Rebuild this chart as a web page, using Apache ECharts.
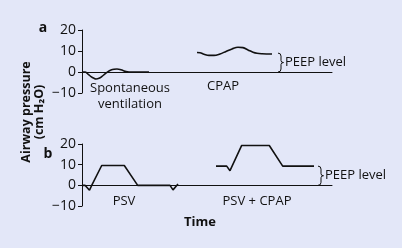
<!DOCTYPE html>
<html>
<head>
<meta charset="utf-8">
<script src="https://cdn.jsdelivr.net/npm/echarts@6/dist/echarts.min.js"></script>
<style>
html,body{margin:0;padding:0;background:#e3e7f8;}
#c{width:402px;height:248px;}
</style>
</head>
<body>
<div id="c"></div>
<script>
// ---- data ----
const yTicks = [-10, 0, 10, 20];
const timeRange = [0, 250];
// panel a: spontaneous ventilation
const spontT = [0, 3, 6, 9, 12, 14, 17, 20, 23, 26, 29, 32, 35, 38, 41, 44, 47, 67];
const spontP = [0, 0, -1.0, -2.2, -3.0, -3.3, -3.0, -2.1, -0.9, 0.2, 0.9, 1.3, 1.4, 1.2, 0.7, 0.2, 0, 0];
// panel a: CPAP
const cpapT = [115, 118, 122, 127, 132, 138, 144, 150, 156, 161, 166, 171, 175, 180, 190];
const cpapP = [9.3, 9.2, 8.5, 7.9, 7.9, 8.6, 9.8, 11.0, 11.8, 11.6, 10.5, 9.4, 8.9, 8.7, 8.6];
// panel b: PSV
const psvT = [0, 3, 7.5, 9.7, 19.7, 42.3, 55.7, 88, 91, 96];
const psvP = [0, 0, -2.4, 0, 9.6, 9.6, 0, 0, -2.2, 0.6];
// panel b: PSV + CPAP
const psvCpapT = [134, 144.7, 148, 159.7, 187.3, 200.7, 232];
const psvCpapP = [9.3, 9.3, 7.1, 19.3, 19.3, 9.3, 9.3];
// PEEP level brackets [time, level]
const peepA = [196, 9.0];
const peepB = [236, 9.3];

const FONT = '"Open Sans", "Noto Sans", sans-serif';
const zip = (t, p) => t.map((v, i) => [v, p[i]]);

function yAxisCfg(gi) {
  return {
    gridIndex: gi, type: 'value',
    min: yTicks[0], max: yTicks[yTicks.length - 1], interval: 10,
    axisLine: {show: true, lineStyle: {color: '#111', width: 1}},
    axisTick: {show: true, length: 4, lineStyle: {color: '#111', width: 1}},
    axisLabel: {color: '#111', fontSize: 14, fontFamily: FONT, margin: 6,
      formatter: v => String(v).replace('-', '\u2212')},
    splitLine: {show: false}
  };
}
function xAxisCfg(gi) {
  return {
    gridIndex: gi, type: 'value', min: timeRange[0], max: timeRange[1],
    axisLine: {show: true, onZero: true, lineStyle: {color: '#111', width: 1}},
    axisTick: {show: false}, axisLabel: {show: false}, splitLine: {show: false}
  };
}
function lineSeries(gi, t, p) {
  return {
    type: 'line', xAxisIndex: gi, yAxisIndex: gi, data: zip(t, p),
    smooth: false, symbol: 'none', animation: false,
    lineStyle: {color: '#111', width: 1.6}
  };
}
function smoothSeries(gi, t, p) {
  const s = lineSeries(gi, t, p); s.smooth = 0.4; return s;
}

const chart = echarts.init(document.getElementById('c'), null, {renderer: 'canvas'});
chart.setOption({
  backgroundColor: '#e3e7f8',
  animation: false,
  grid: [
    {left: 82, top: 30, width: 250, height: 63},
    {left: 82, top: 144, width: 250, height: 62}
  ],
  xAxis: [xAxisCfg(0), xAxisCfg(1)],
  yAxis: [yAxisCfg(0), yAxisCfg(1)],
  series: [
    smoothSeries(0, spontT, spontP),
    smoothSeries(0, cpapT, cpapP),
    lineSeries(1, psvT, psvP),
    lineSeries(1, psvCpapT, psvCpapP)
  ]
});

const ST = {stroke: '#111', lineWidth: 1, fill: null};
function braceGraphic(gi, peep) {
  const top = chart.convertToPixel({gridIndex: gi}, [peep[0], peep[1]]);
  const bot = chart.convertToPixel({gridIndex: gi}, [peep[0], 0]);
  const x = top[0], y1 = top[1], y2 = bot[1], m = (y1 + y2) / 2;
  const q = (ax, ay, cx, cy, bx, by) => ({type: 'bezierCurve', silent: true,
    shape: {x1: ax, y1: ay, x2: bx, y2: by, cpx1: cx, cpy1: cy}, style: ST});
  const l = (ax, ay, bx, by) => ({type: 'line', silent: true,
    shape: {x1: ax, y1: ay, x2: bx, y2: by}, style: ST});
  return [
    q(x, y1, x + 3, y1, x + 3, y1 + 3),
    l(x + 3, y1 + 3, x + 3, m - 2),
    q(x + 3, m - 2, x + 3, m, x + 5.5, m),
    q(x + 5.5, m, x + 3, m, x + 3, m + 2),
    l(x + 3, m + 2, x + 3, y2 - 3),
    q(x + 3, y2 - 3, x + 3, y2, x, y2),
    {type: 'text', x: x + 7, y: m, style: {text: 'PEEP level', font: `13px ${FONT}`, fill: '#111', verticalAlign: 'middle', align: 'left'}}
  ];
}
function txt(text, x, y, opts) {
  return {type: 'text', x: x, y: y,
    style: Object.assign({text: text, font: `13px ${FONT}`, fill: '#111', align: 'center', verticalAlign: 'middle'}, opts || {})};
}

chart.setOption({
  graphic: [
    ...braceGraphic(0, peepA),
    ...braceGraphic(1, peepB),
    txt('a', 43, 28, {font: `bold 14px ${FONT}`}),
    txt('b', 48, 154, {font: `bold 14px ${FONT}`}),
    txt('Spontaneous\nventilation', 130, 96, {lineHeight: 16}),
    txt('CPAP', 223, 86),
    txt('PSV', 124, 201),
    txt('PSV + CPAP', 257, 201),
    txt('Time', 200, 222, {font: `bold 13px ${FONT}`}),
    {type: 'text', x: 33, y: 112, rotation: Math.PI / 2,
      style: {text: 'Airway pressure\n(cm H\u2082O)', font: `bold 12.5px ${FONT}`, fill: '#111',
        align: 'center', verticalAlign: 'middle', lineHeight: 13}}
  ]
});
</script>
</body>
</html>
